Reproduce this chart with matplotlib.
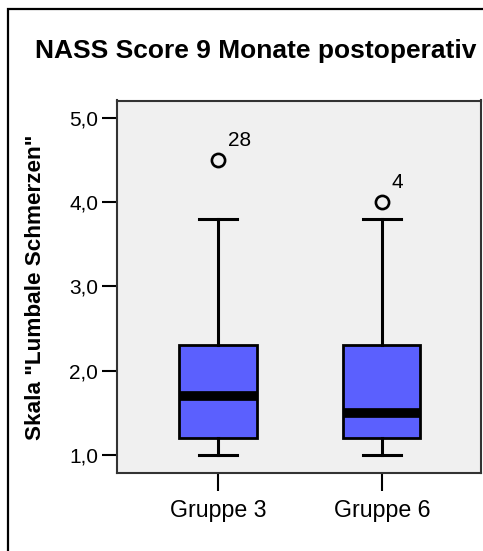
import matplotlib
matplotlib.use("Agg")
import matplotlib.pyplot as plt
from matplotlib.patches import Rectangle

plt.rcParams['font.family'] = ['Liberation Sans', 'DejaVu Sans']

# ---- data ----
groups = ['Gruppe 3', 'Gruppe 6']
whisker_low = [1.0, 1.0]
q1 = [1.2, 1.2]
median = [1.7, 1.5]
q3 = [2.3, 2.3]
whisker_high = [3.8, 3.8]
outliers = [[4.5], [4.0]]
outlier_ids = [['28'], ['4']]
yticks = [1.0, 2.0, 3.0, 4.0, 5.0]
ytick_labels = ['1,0', '2,0', '3,0', '4,0', '5,0']
title = 'NASS Score 9 Monate postoperativ'
ylabel = 'Skala "Lumbale Schmerzen"'

W, H, DPI = 483, 551, 100
fig = plt.figure(figsize=(W / DPI, H / DPI), dpi=DPI, facecolor='white')
ax = fig.add_axes([117 / W, 1 - 472.7 / H, (481 - 117) / W, (472.7 - 100.5) / H])
ax.set_facecolor('#f0f0f0')

positions = list(range(1, len(groups) + 1))
stats = []
for i, g in enumerate(groups):
    stats.append(dict(label=g, whislo=whisker_low[i], q1=q1[i], med=median[i],
                      q3=q3[i], whishi=whisker_high[i], fliers=outliers[i]))

ax.bxp(stats, positions=positions, widths=0.47, patch_artist=True,
       boxprops=dict(facecolor='#5b60fe', edgecolor='black', linewidth=2.0),
       medianprops=dict(color='black', linewidth=7.0, solid_capstyle='butt'),
       whiskerprops=dict(color='black', linewidth=2.2),
       capprops=dict(color='black', linewidth=2.2),
       capwidths=0.23,
       flierprops=dict(marker='o', markersize=9.5, markerfacecolor='none',
                       markeredgecolor='black', markeredgewidth=1.9))

for i, pos in enumerate(positions):
    for v, lab in zip(outliers[i], outlier_ids[i]):
        ax.annotate(lab, xy=(pos, v), xytext=(7.2, 14.5), textcoords='offset points',
                    ha='left', va='center', fontsize=15, color='black')

ax.set_xlim(0.384, 2.604)
ax.set_ylim(0.787, 5.21)
ax.set_yticks(yticks)
ax.set_yticklabels(ytick_labels)
ax.set_xticks(positions)
ax.set_xticklabels(groups)

ax.tick_params(axis='y', length=10.8, width=1.5, pad=2.8, labelsize=15, color='black')
ax.tick_params(axis='x', length=13, width=1.5, pad=6, labelsize=16.7, color='black')
for s in ax.spines.values():
    s.set_color('#333333')
    s.set_linewidth(1.5)

fig.text(256 / W, 1 - 58.3 / H, title, ha='center', va='baseline',
         fontsize=19, fontweight='bold')
fig.text(36 / W, 1 - 287 / H, ylabel, ha='center', va='center', rotation=90,
         fontsize=16.2, fontweight='bold')

# outer frame (cropped at right and bottom)
fig.patches.append(Rectangle((8.3 / W, -0.2), 1.5, 1.2 + (1 - 9.3 / H) - 1,
                             transform=fig.transFigure, fill=False,
                             edgecolor='black', linewidth=1.6, clip_on=False))

fig.savefig('out.png', dpi=DPI, facecolor='white')
